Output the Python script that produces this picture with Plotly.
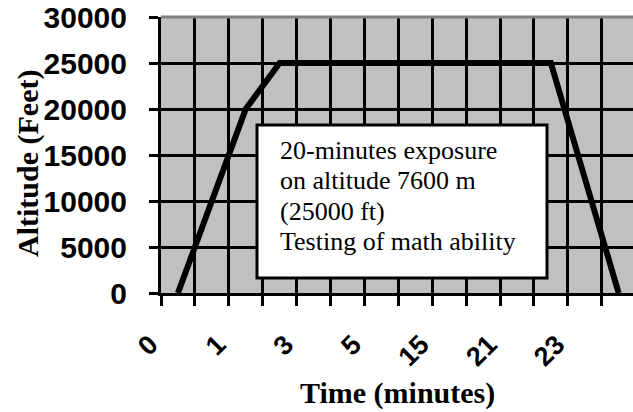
import numpy as np
import plotly.graph_objects as go

# ---- data ----
altitude_ft = [0, 10000, 20000, 25000, 25000, 25000, 25000, 25000,
               25000, 25000, 25000, 25000, 12500, 0]
time_labels = ["0", "1", "3", "5", "15", "21", "23"]
y_ticks = [0, 5000, 10000, 15000, 20000, 25000, 30000]
note_lines = ["20-minutes exposure", "on altitude 7600 m", "(25000 ft)",
              "Testing of math ability"]

n = len(altitude_ft)
x_pos = np.arange(n) + 0.5            # points sit between the tick marks
tickvals = list(range(n + 1))
ticktext = []
for k in tickvals:
    if k % 2 == 0 and k // 2 < len(time_labels):
        ticktext.append(time_labels[k // 2])
    else:
        ticktext.append("")

W, H = 633, 412
ML, MR, MT, MB = 161, 0, 17, 119
PW, PH = W - ML - MR, H - MT - MB

def px_x(p):
    return (p - ML) / PW

def px_y(p):
    return (H - MB - p) / PH

SANS = "Liberation Sans"
SERIF = "Liberation Serif"

fig = go.Figure()
fig.add_trace(go.Scatter(x=x_pos, y=altitude_ft, mode="lines",
                         line=dict(color="black", width=6),
                         showlegend=False, hoverinfo="skip", cliponaxis=False))

fig.update_layout(
    width=W, height=H,
    margin=dict(l=ML, r=MR, t=MT, b=MB, pad=0, autoexpand=False),
    paper_bgcolor="white",
    plot_bgcolor="#c0c0c0",
    showlegend=False,
)

fig.update_xaxes(
    range=[0, PW / 33.9], tickmode="array", tickvals=tickvals, ticktext=ticktext,
    tickangle=-45, ticks="outside", ticklen=10, tickwidth=2.5, tickcolor="black",
    showgrid=True, gridcolor="black", gridwidth=3,
    showline=True, linecolor="black", linewidth=3, zeroline=False,
    tickfont=dict(family=SANS, size=27, color="black", weight="bold"),
    ticklabelstandoff=12, ticklabelshift=-11,
    automargin=False, ticklabeloverflow="allow",
)
fig.update_yaxes(
    range=[0, 30000], tickmode="array", tickvals=y_ticks,
    ticktext=[str(v) for v in y_ticks],
    ticks="outside", ticklen=9, tickwidth=3, tickcolor="black",
    showgrid=True, gridcolor="black", gridwidth=3,
    showline=True, linecolor="black", linewidth=3, zeroline=False,
    tickfont=dict(family=SANS, size=30, color="black", weight="bold"),
    ticklabelstandoff=16, automargin=False, ticklabeloverflow="allow",
)

# top edge of plot area (grey)
fig.add_shape(type="line", xref="paper", yref="paper", x0=0, x1=1, y0=1, y1=1,
              line=dict(color="#808080", width=3), layer="above")

# note box
fig.add_shape(type="rect", xref="paper", yref="paper",
              x0=px_x(257), x1=px_x(547), y0=px_y(278), y1=px_y(125),
              fillcolor="white", line=dict(color="black", width=3), layer="above")

for i, t in enumerate(note_lines):
    fig.add_annotation(text=t, xref="paper", yref="paper",
                       x=px_x(278), y=px_y(150 + 30.5 * i),
                       xanchor="left", yanchor="middle", showarrow=False,
                       font=dict(family=SERIF, size=26, color="black"))

# axis titles
fig.add_annotation(text="<b>Altitude (Feet)</b>", xref="paper", yref="paper",
                   x=px_x(27.5), y=px_y(163.5), textangle=-90,
                   xanchor="center", yanchor="middle", showarrow=False,
                   font=dict(family=SERIF, size=30, color="black"))
fig.add_annotation(text="<b>Time (minutes)</b>", xref="paper", yref="paper",
                   x=px_x(397), y=px_y(393),
                   xanchor="center", yanchor="middle", showarrow=False,
                   font=dict(family=SERIF, size=30, color="black"))

fig.write_html(
    "out.html",
    config={"displayModeBar": False},
    post_script="document.body.style.margin='0';document.body.style.overflow='hidden';",
)
